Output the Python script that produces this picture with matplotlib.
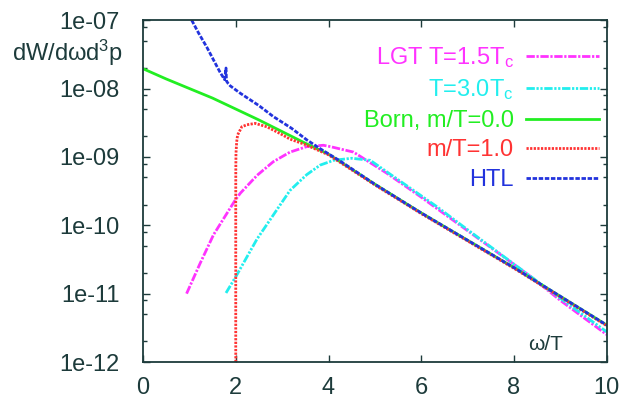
import matplotlib
matplotlib.use("Agg")
import matplotlib.pyplot as plt
from matplotlib.ticker import FixedLocator, NullFormatter
import numpy as np

plt.rcParams['font.family'] = ['Liberation Sans', 'DejaVu Sans']
plt.rcParams['mathtext.default'] = 'regular'

# values: omega/T and log10 of the rate
lgt15_x = [0.94, 1.23, 1.52, 1.99, 2.10, 2.46, 2.81, 3.17, 3.53, 3.89, 4.04,
           4.54, 5.26, 5.98, 7.00, 8.36, 9.00, 10.0]
lgt15_lg = [-11.0, -10.56, -10.14, -9.63, -9.53, -9.27, -9.07, -8.93, -8.85,
            -8.83, -8.85, -8.93, -9.24, -9.58, -10.08, -10.75, -11.10, -11.60]

lgt30_x = [1.79, 2.02, 2.31, 2.46, 2.81, 3.17, 3.53, 3.82, 4.11, 4.50, 4.90,
           5.62, 6.34, 6.85, 8.36, 9.00, 10.0]
lgt30_lg = [-10.99, -10.73, -10.38, -10.20, -9.85, -9.49, -9.26, -9.12, -9.05,
            -9.02, -9.05, -9.39, -9.73, -9.99, -10.75, -11.07, -11.56]

born_x = [0.0, 0.5, 1.0, 1.5, 2.0, 2.5, 3.0, 3.5, 4.0, 5.0, 6.0, 7.0, 8.0,
          9.0, 10.0]
born_lg = [-7.71, -7.86, -8.00, -8.14, -8.30, -8.46, -8.63, -8.80, -8.96,
           -9.40, -9.82, -10.22, -10.62, -11.04, -11.46]

m10_x = [2.0, 2.0, 2.001, 2.005, 2.02, 2.04, 2.13, 2.24, 2.42, 2.67, 2.96,
         3.17, 3.50, 4.0, 5.0, 6.0, 7.0, 8.0, 9.0, 10.0]
m10_lg = [-12.0, -9.6, -9.2, -8.95, -8.78, -8.68, -8.56, -8.53, -8.51, -8.56,
          -8.66, -8.74, -8.82, -8.97, -9.41, -9.83, -10.23, -10.63, -11.05,
          -11.47]

htl_x = [1.05, 1.20, 1.38, 1.55, 1.66, 1.76, 1.79, 1.80, 1.84, 1.88, 2.10,
         2.50, 2.81, 3.20, 3.53, 3.82, 4.25, 5.0, 6.0, 7.0, 8.0, 9.0, 10.0]
htl_lg = [-7.0, -7.19, -7.40, -7.62, -7.76, -7.87, -7.70, -7.89, -7.93,
          -7.96, -8.07, -8.25, -8.41, -8.58, -8.75, -8.88, -9.06, -9.40,
          -9.82, -10.22, -10.62, -11.04, -11.46]

labels = ['LGT T=1.5T$_c$', 'T=3.0T$_c$', 'Born, m/T=0.0', 'm/T=1.0', 'HTL']
colors = ['#ff33ff', '#22eeee', '#22ee22', '#ff3333', '#2233dd']

axc = '#1d3b3b'
fig = plt.figure(figsize=(6.23, 4.03), dpi=100)
ax = fig.add_axes([0.2295, 0.1017, 0.7445, 0.8483])

series = [(lgt15_x, lgt15_lg), (lgt30_x, lgt30_lg), (born_x, born_lg),
          (m10_x, m10_lg), (htl_x, htl_lg)]
styles = [(0, (3, 0.6, 0.8, 0.6)), (0, (3, 0.6, 0.8, 0.6, 0.8, 0.6)), '-',
          (0, (0.8, 0.5)), (0, (1.6, 0.6))]
for (xs, lg), lab, c, ls in zip(series, labels, colors, styles):
    ax.plot(xs, 10.0 ** np.array(lg), color=c, ls=ls, lw=2, label=lab)

ax.set_yscale('log')
ax.set_xlim(0, 10)
ax.set_ylim(1e-12, 1e-7)
ax.set_xticks([0, 2, 4, 6, 8, 10])
ax.set_yticks([1e-12, 1e-11, 1e-10, 1e-9, 1e-8, 1e-7])
ax.set_yticklabels(['1e-12', '1e-11', '1e-10', '1e-09', '1e-08', '1e-07'])
minors = [m * 10.0 ** e for e in range(-12, -7) for m in (2, 5, 8)]
ax.yaxis.set_minor_locator(FixedLocator(minors))
ax.yaxis.set_minor_formatter(NullFormatter())
ax.tick_params(which='both', direction='in', top=True, right=True,
               colors=axc, labelsize=17)
ax.tick_params(which='major', length=5, width=1)
ax.tick_params(which='minor', length=3, width=1)
ax.tick_params(axis='x', pad=11)
ax.tick_params(axis='y', pad=17)
for s in ax.spines.values():
    s.set_color(axc)
    s.set_linewidth(1.3)

leg = ax.legend(loc='upper right', bbox_to_anchor=(1.003, 0.955), frameon=False,
                markerfirst=False, fontsize=17, handlelength=3.1,
                handletextpad=0.5, labelspacing=0.32, borderaxespad=0.0)
for t, c in zip(leg.get_texts(), colors):
    t.set_color(c)

fig.text(0.019, 1 - 53 / 403, 'dW/d\u03c9d$^3$p', fontsize=17, color=axc,
         ha='left', va='center')
ax.text(0.905, 0.05, '\u03c9/T', transform=ax.transAxes, fontsize=15,
        color=axc, ha='right', va='center')

fig.savefig('out.png', dpi=100)
